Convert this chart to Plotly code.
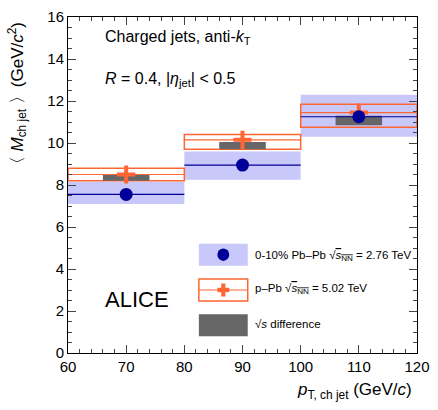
import plotly.graph_objects as go

pt_centers = [70, 90, 110]
pt_width = 20

pbpb_mean = [7.55, 8.95, 11.25]
pbpb_sys_lo = [7.1, 8.25, 10.3]
pbpb_sys_hi = [8.15, 9.6, 12.3]

ppb_mean = [8.5, 10.15, 11.45]
ppb_sys_lo = [8.2, 9.7, 10.75]
ppb_sys_hi = [8.8, 10.4, 11.85]

diff_lo = [8.2, 9.7, 10.85]
diff_hi = [8.5, 10.05, 11.3]
diff_width = 8

blue_fill = "rgba(190,190,250,0.85)"
orange = "#ff6633"
navy = "#000099"

fig = go.Figure()

# Pb-Pb systematic bands
fig.add_trace(go.Bar(x=pt_centers, y=[h - l for h, l in zip(pbpb_sys_hi, pbpb_sys_lo)],
                     base=pbpb_sys_lo, width=pt_width, marker=dict(color=blue_fill, line_width=0),
                     showlegend=False))
# p-Pb boxes
fig.add_trace(go.Bar(x=pt_centers, y=[h - l for h, l in zip(ppb_sys_hi, ppb_sys_lo)],
                     base=ppb_sys_lo, width=pt_width,
                     marker=dict(color="rgba(255,255,255,0)", line=dict(color=orange, width=1.5)),
                     showlegend=False))
# sqrt(s) difference
fig.add_trace(go.Bar(x=pt_centers, y=[h - l for h, l in zip(diff_hi, diff_lo)],
                     base=diff_lo, width=diff_width, marker=dict(color="#666666", line_width=0),
                     showlegend=False))

# horizontal lines at the mean
for c, m, col in [(c, m, navy) for c, m in zip(pt_centers, pbpb_mean)] + \
                 [(c, m, orange) for c, m in zip(pt_centers, ppb_mean)]:
    fig.add_trace(go.Scatter(x=[c - pt_width / 2, c + pt_width / 2], y=[m, m], mode="lines",
                             line=dict(color=col, width=1.2), showlegend=False, hoverinfo="skip"))

fig.add_trace(go.Scatter(x=pt_centers, y=ppb_mean, mode="markers",
                         marker=dict(symbol="cross-thin", size=13, line=dict(color=orange, width=4)),
                         showlegend=False))
fig.add_trace(go.Scatter(x=pt_centers, y=pbpb_mean, mode="markers",
                         marker=dict(symbol="circle", size=13, color=navy), showlegend=False))

font = dict(family="Liberation Sans, Arial", color="black")

fig.update_layout(
    width=438, height=410, barmode="overlay", plot_bgcolor="white", paper_bgcolor="white",
    margin=dict(l=68, r=12, t=8, b=57), font=dict(size=15, **font),
    xaxis=dict(range=[60, 120], tickvals=[60, 70, 80, 90, 100, 110, 120], ticks="inside", ticklen=8,
               showgrid=False, showline=True, linecolor="black", mirror="ticks",
               minor=dict(ticks="inside", ticklen=4, dtick=2), zeroline=False, tickfont=dict(size=15),
               ticklabeloverflow="allow"),
    yaxis=dict(range=[0, 16], tickvals=list(range(0, 17, 2)), ticks="inside", ticklen=8, showgrid=False,
               showline=True, linecolor="black", mirror="ticks",
               minor=dict(ticks="inside", ticklen=4, dtick=0.5), zeroline=False, tickfont=dict(size=15),
               ticklabeloverflow="allow"),
)

ann = [
    dict(x=0.99, y=-0.075, text="<i>p</i><sub>T, ch jet</sub> (GeV/<i>c</i>)", xanchor="right", yanchor="top", size=17),
    dict(x=0.1, y=0.94, text="Charged jets, anti-<i>k</i><sub>T</sub>", xanchor="left", yanchor="middle", size=16),
    dict(x=0.1, y=0.815, text="<i>R</i> = 0.4, |<i>η</i><sub>jet</sub>| < 0.5", xanchor="left", yanchor="middle", size=16),
    dict(x=0.1, y=0.16, text="ALICE", xanchor="left", yanchor="middle", size=22),
    dict(x=0.53, y=0.29, text="0-10% Pb–Pb √<span style='text-decoration:overline'><i>s</i><sub>NN</sub></span> = 2.76 TeV", xanchor="left", yanchor="middle", size=11.5),
    dict(x=0.53, y=0.19, text="p–Pb √<span style='text-decoration:overline'><i>s</i><sub>NN</sub></span> = 5.02 TeV", xanchor="left", yanchor="middle", size=11.5),
    dict(x=0.53, y=0.085, text="√<i>s</i> difference", xanchor="left", yanchor="middle", size=11.5),
]
for a in ann:
    fig.add_annotation(x=a["x"], y=a["y"], xref="paper", yref="paper", text=a["text"], showarrow=False,
                       xanchor=a["xanchor"], yanchor=a["yanchor"], font=dict(size=a["size"], **font))
fig.add_annotation(x=-0.145, y=0.99, xref="paper", yref="paper", textangle=-90, showarrow=False,
                   xanchor="center", yanchor="top",
                   text="〈 <i>M</i><sub>ch jet</sub> 〉(GeV/<i>c</i><sup>2</sup>)", font=dict(size=17, **font))

# legend swatches
fig.add_shape(type="rect", xref="paper", yref="paper", x0=0.375, x1=0.515, y0=0.26, y1=0.325,
              fillcolor=blue_fill, line_width=0)
fig.add_shape(type="circle", xref="paper", yref="paper", x0=0.428, x1=0.462, y0=0.274, y1=0.311,
              fillcolor=navy, line_width=0)
fig.add_shape(type="rect", xref="paper", yref="paper", x0=0.375, x1=0.515, y0=0.155, y1=0.22,
              fillcolor="white", line=dict(color=orange, width=1.5))
fig.add_shape(type="line", xref="paper", yref="paper", x0=0.375, x1=0.515, y0=0.1875, y1=0.1875,
              line=dict(color=orange, width=1.2))
fig.add_shape(type="rect", xref="paper", yref="paper", x0=0.428, x1=0.462, y0=0.181, y1=0.194,
              fillcolor=orange, line_width=0)
fig.add_shape(type="rect", xref="paper", yref="paper", x0=0.439, x1=0.451, y0=0.168, y1=0.207,
              fillcolor=orange, line_width=0)
fig.add_shape(type="rect", xref="paper", yref="paper", x0=0.375, x1=0.515, y0=0.05, y1=0.115,
              fillcolor="#666666", line_width=0)

fig.write_html("out.html", config={"displayModeBar": False},
               post_script="document.body.style.margin='0';document.body.style.overflow='hidden';")
